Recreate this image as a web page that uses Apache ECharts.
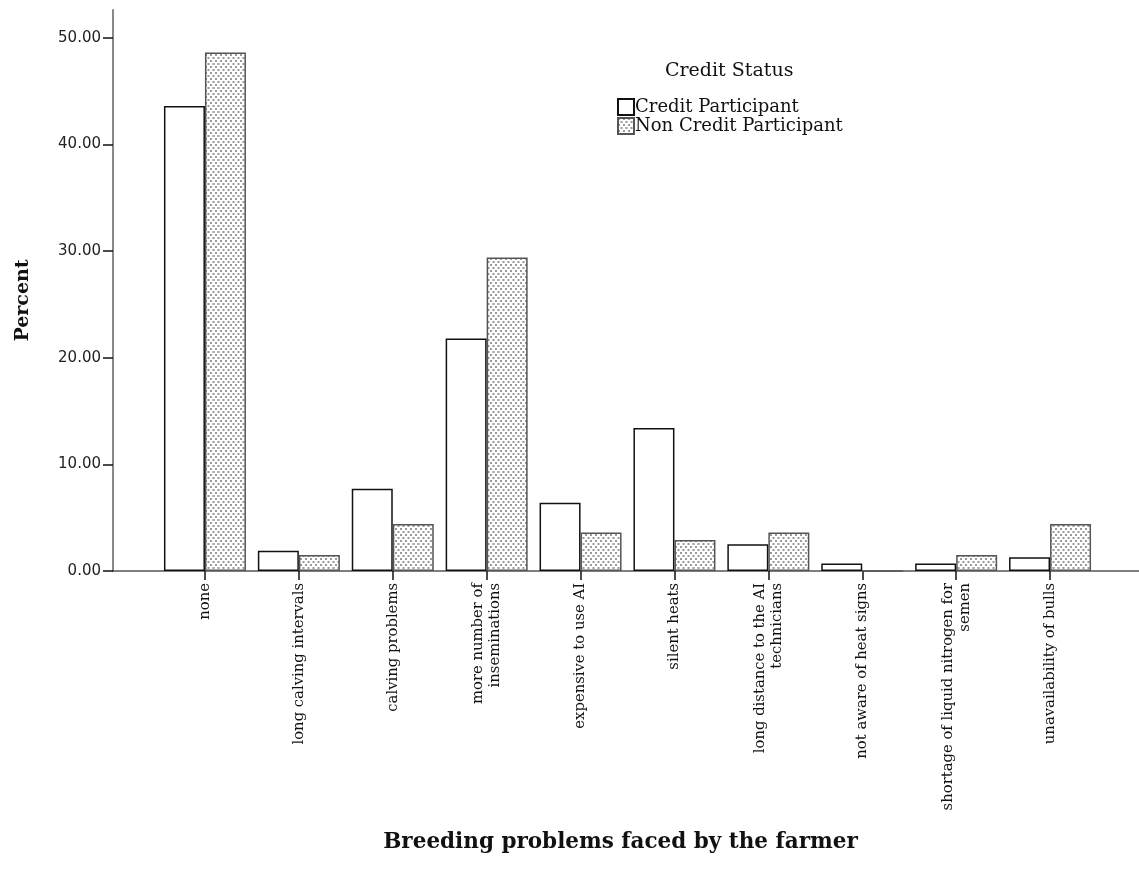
<!DOCTYPE html>
<html>
<head>
<meta charset="utf-8">
<script src="https://cdn.jsdelivr.net/npm/echarts@6/dist/echarts.min.js"></script>
<style>html,body{margin:0;padding:0;background:#fff;}#chart{width:1139px;height:884px;}</style>
</head>
<body>
<div id="chart"></div>
<script>
const categories = [
  'none',
  'long calving intervals',
  'calving problems',
  'more number of\ninseminations',
  'expensive to use AI',
  'silent heats',
  'long distance to the AI\ntechnicians',
  'not aware of heat signs',
  'shortage of liquid nitrogen for\nsemen',
  'unavailability of bulls'
];
const creditParticipant = [43.6, 1.9, 7.7, 21.8, 6.4, 13.4, 2.5, 0.7, 0.7, 1.3];
const nonCreditParticipant = [48.6, 1.5, 4.4, 29.4, 3.6, 2.9, 3.6, 0.0, 1.5, 4.4];
const yTicks = [0, 10, 20, 30, 40, 50];
const seriesNames = ['Credit Participant', 'Non Credit Participant'];

function makePattern() {
  const c = document.createElement('canvas');
  c.width = 5; c.height = 6;
  const g = c.getContext('2d');
  g.fillStyle = '#ffffff';
  g.fillRect(0, 0, 5, 6);
  g.fillStyle = '#9a9a9a';
  g.fillRect(0, 0, 2, 2);
  g.fillRect(2.5, 3, 2, 2);
  return {image: c, repeat: 'repeat'};
}

const chart = echarts.init(document.getElementById('chart'));
const serif = 'DejaVu Serif';
chart.setOption({
  animation: false,
  backgroundColor: '#fff',
  title: {
    text: 'Credit Status',
    left: 660, top: 57,
    textStyle: {fontFamily: serif, fontSize: 19, fontWeight: 'normal', color: '#111'}
  },
  legend: {
    orient: 'vertical',
    left: 612, top: 93,
    itemWidth: 16, itemHeight: 16, itemGap: 1,
    icon: 'rect',
    textStyle: {fontFamily: serif, fontSize: 18, lineHeight: 17, color: '#111', padding: [0, 0, 0, -4]},
    data: seriesNames
  },
  grid: [
    {left: 158, right: 42, top: 10, bottom: 313, containLabel: false},
    {left: 113, right: 0, top: 10, bottom: 313, containLabel: false}
  ],
  xAxis: [
    {
      type: 'category', gridIndex: 0, data: categories,
      axisLine: {show: false},
      axisTick: {show: true, alignWithLabel: true, length: 9, lineStyle: {color: '#111', width: 1.5}},
      axisLabel: {rotate: 90, interval: 0, margin: 12, fontFamily: serif, fontSize: 14.8, color: '#111', lineHeight: 17},
      name: 'Breeding problems faced by the farmer',
      nameLocation: 'middle', nameGap: 260,
      nameTextStyle: {fontFamily: serif, fontWeight: 'bold', fontSize: 21.5, color: '#111', padding: [0, 14, 0, 0]}
    },
    {
      type: 'value', gridIndex: 1, min: 0, max: 1,
      axisLine: {show: true, lineStyle: {color: '#555', width: 1.5}},
      axisTick: {show: false}, axisLabel: {show: false}, splitLine: {show: false}
    }
  ],
  yAxis: [
    {
      type: 'value', gridIndex: 0, min: 0, max: 52.59,
      show: false, splitLine: {show: false}
    },
    {
      type: 'value', gridIndex: 1, min: 0, max: 52.59,
      axisLine: {show: true, lineStyle: {color: '#888', width: 2}},
      axisTick: {show: true, length: 10, customValues: yTicks, lineStyle: {color: '#111', width: 1.5}},
      axisLabel: {show: true, customValues: yTicks, margin: 12, fontFamily: 'DejaVu Sans', fontSize: 15, color: '#222',
        formatter: v => v.toFixed(2)},
      splitLine: {show: false},
      name: 'Percent', nameLocation: 'middle', nameGap: 80, nameRotate: 90,
      nameTextStyle: {fontFamily: serif, fontWeight: 'bold', fontSize: 19, color: '#111', padding: [0, 20, 0, 0]}
    }
  ],
  series: [
    {
      name: seriesNames[0], type: 'bar', xAxisIndex: 0, yAxisIndex: 0,
      data: creditParticipant, barWidth: 41, barGap: '0%',
      itemStyle: {color: '#ffffff', borderColor: '#111', borderWidth: 1.5}
    },
    {
      name: seriesNames[1], type: 'bar', xAxisIndex: 0, yAxisIndex: 0,
      data: nonCreditParticipant, barWidth: 41, barGap: '0%',
      itemStyle: {color: makePattern(), borderColor: '#555', borderWidth: 1.5}
    }
  ]
});
</script>
</body>
</html>
